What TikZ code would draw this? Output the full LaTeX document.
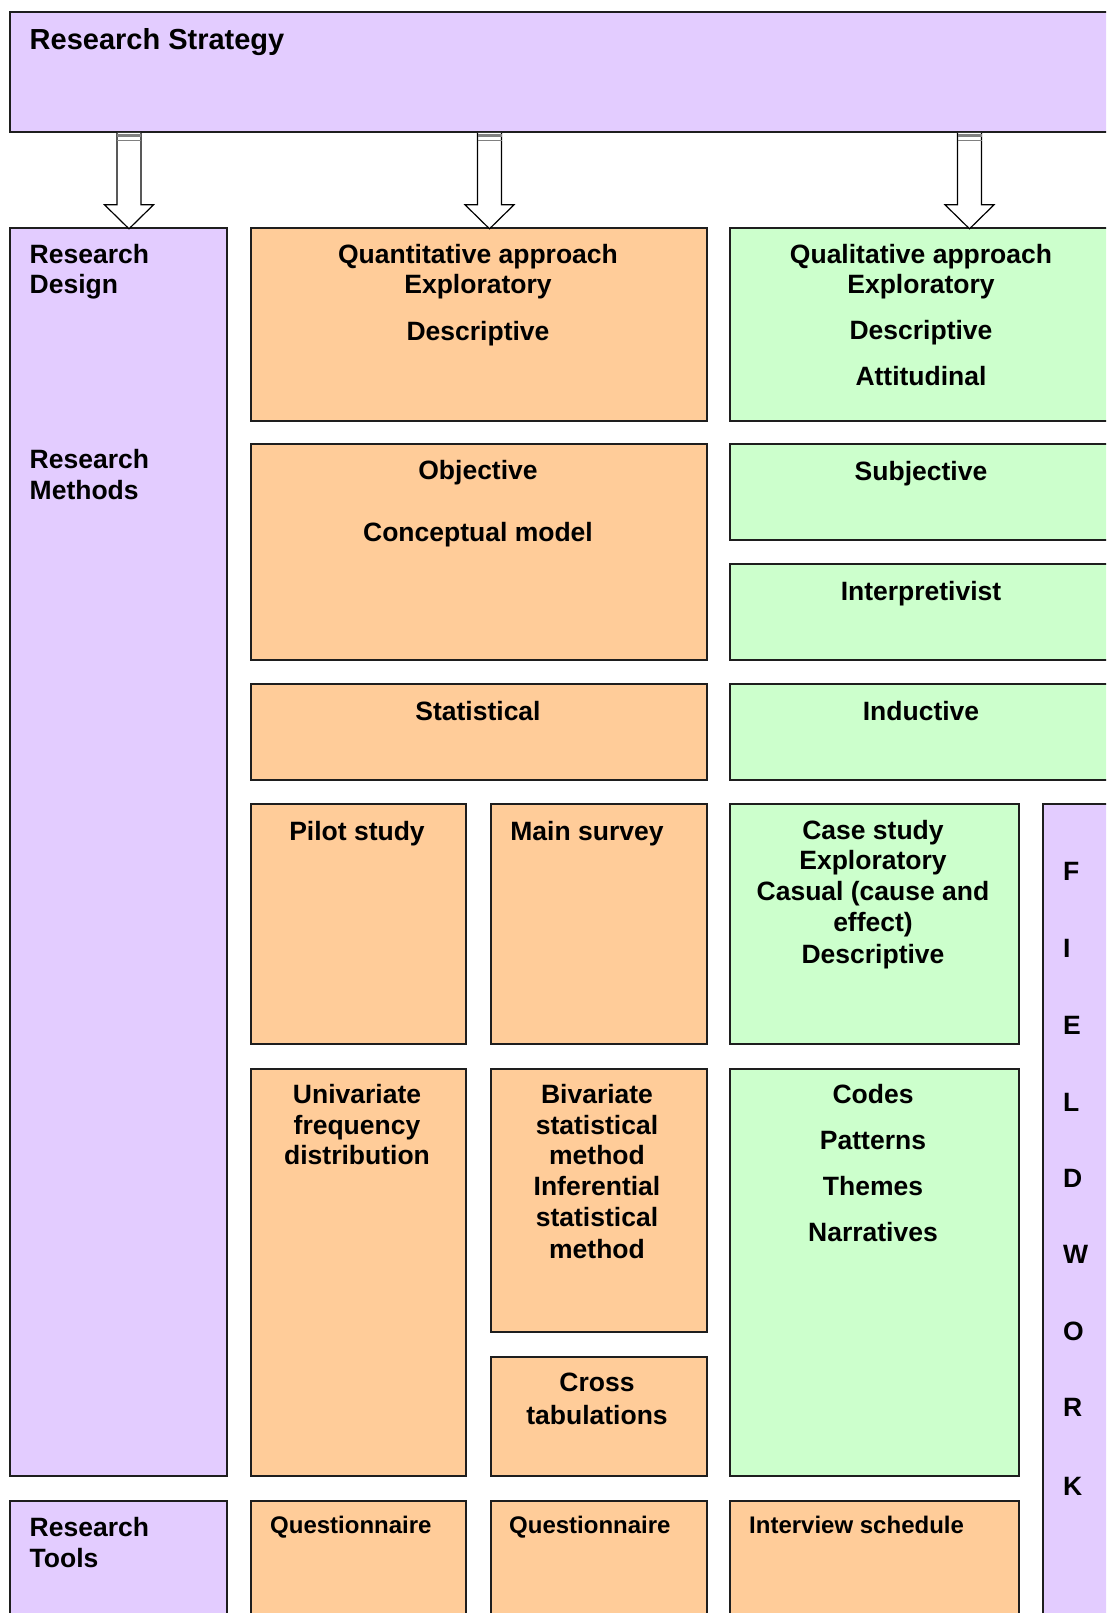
\documentclass[tikz,border=0pt]{standalone}
\usepackage{fontspec}
\setmainfont{Liberation Sans}
\definecolor{lav}{RGB}{227,204,255}
\definecolor{peach}{RGB}{255,204,153}
\definecolor{mint}{RGB}{204,255,204}
\definecolor{edge}{RGB}{30,30,30}
\tikzset{
  box/.style={draw=edge, line width=1.8pt, rectangle, inner sep=0pt, anchor=north west},
  lbl/.style={inner sep=0pt, anchor=base, font=\fontsize{26.5}{30.5}\selectfont\bfseries},
  lbll/.style={lbl, anchor=base west},
  small/.style={inner sep=0pt, anchor=base west, font=\fontsize{24}{28}\selectfont\bfseries},
  arrowline/.style={draw=black, fill=white, line width=1.2pt, line join=miter},
  blockarrow/.pic={
    \path[arrowline] (-12,0) -- (-12,72) -- (-24.5,72) -- (0,96) -- (24.5,72) -- (12,72) -- (12,0);
    \fill[gray] (-12,1) rectangle (12,4.5);
    \draw[gray, line width=1pt] (-12,7.5) -- (12,7.5);
  }
}
\begin{document}
\begin{tikzpicture}[x=1pt,y=-1pt]
\clip (0,0) rectangle (1106,1613);
\fill[white] (0,0) rectangle (1106,1613);

% strategy band
\node[box, fill=lav, minimum width=1104pt, minimum height=120pt] (strategy) at (9,11) {};
\node[lbll, font=\fontsize{29}{33}\selectfont\bfseries] (tstrategy) at (29.5,50) {Research Strategy};

% left column
\node[box, fill=lav, minimum width=217pt, minimum height=1248pt] (design) at (9,227) {};
\node[box, fill=lav, minimum width=217pt, minimum height=140pt] (tools) at (9,1500) {};
\node[lbll] (tdesign1) at (29.5,263) {Research};
\node[lbll] (tdesign2) at (29.5,293) {Design};
\node[lbll] (tmeth1) at (29.5,468) {Research};
\node[lbll] (tmeth2) at (29.5,499) {Methods};
\node[lbll] (ttools1) at (29.5,1536) {Research};
\node[lbll] (ttools2) at (29.5,1567) {Tools};

% quantitative column
\node[box, fill=peach, minimum width=456pt, minimum height=193pt] (quant) at (250,227) {};
\node[box, fill=peach, minimum width=456pt, minimum height=216pt] (objective) at (250,443) {};
\node[box, fill=peach, minimum width=456pt, minimum height=96pt] (statistical) at (250,683) {};
\node[box, fill=peach, minimum width=215pt, minimum height=240pt] (pilot) at (250,803) {};
\node[box, fill=peach, minimum width=216pt, minimum height=240pt] (mainsurvey) at (490,803) {};
\node[box, fill=peach, minimum width=215pt, minimum height=407pt] (univ) at (250,1068) {};
\node[box, fill=peach, minimum width=216pt, minimum height=263pt] (biv) at (490,1068) {};
\node[box, fill=peach, minimum width=216pt, minimum height=119pt] (cross) at (490,1356) {};
\node[box, fill=peach, minimum width=215pt, minimum height=140pt] (quest1) at (250,1500) {};
\node[box, fill=peach, minimum width=216pt, minimum height=140pt] (quest2) at (490,1500) {};

\node[lbl] (tq1) at (478,263) {Quantitative approach};
\node[lbl] (tq2) at (478,293) {Exploratory};
\node[lbl] (tq3) at (478,340) {Descriptive};
\node[lbl] (tobj1) at (478,479) {Objective};
\node[lbl] (tobj2) at (478,541) {Conceptual model};
\node[lbl] (tstat) at (478,720) {Statistical};
\node[lbl] (tpilot) at (357,840) {Pilot study};
\node[lbl] (tmain) at (587,840) {Main survey};
\node[lbl] (tuni1) at (357,1103) {Univariate};
\node[lbl] (tuni2) at (357,1134) {frequency};
\node[lbl] (tuni3) at (357,1164) {distribution};
\node[lbl] (tbi1) at (597,1103) {Bivariate};
\node[lbl] (tbi2) at (597,1134) {statistical};
\node[lbl] (tbi3) at (597,1164) {method};
\node[lbl] (tbi4) at (597,1195) {Inferential};
\node[lbl] (tbi5) at (597,1226) {statistical};
\node[lbl] (tbi6) at (597,1258) {method};
\node[lbl] (tcr1) at (597,1391) {Cross};
\node[lbl] (tcr2) at (597,1424) {tabulations};
\node[small] (tquest1) at (270,1533) {Questionnaire};
\node[small] (tquest2) at (509,1533) {Questionnaire};

% qualitative column
\node[box, fill=mint, minimum width=384pt, minimum height=193pt] (qual) at (729,227) {};
\node[box, fill=mint, minimum width=384pt, minimum height=96pt] (subjective) at (729,443) {};
\node[box, fill=mint, minimum width=384pt, minimum height=96pt] (interp) at (729,563) {};
\node[box, fill=mint, minimum width=384pt, minimum height=96pt] (inductive) at (729,683) {};
\node[box, fill=mint, minimum width=289pt, minimum height=240pt] (casestudy) at (729,803) {};
\node[box, fill=mint, minimum width=289pt, minimum height=407pt] (codes) at (729,1068) {};
\node[box, fill=peach, minimum width=289pt, minimum height=140pt] (interview) at (729,1500) {};

\node[lbl] (tql1) at (921,263) {Qualitative approach};
\node[lbl] (tql2) at (921,293) {Exploratory};
\node[lbl] (tql3) at (921,339) {Descriptive};
\node[lbl] (tql4) at (921,385) {Attitudinal};
\node[lbl] (tsubj) at (921,480) {Subjective};
\node[lbl] (tinterp) at (921,600) {Interpretivist};
\node[lbl] (tind) at (921,720) {Inductive};
\node[lbl] (tcs1) at (873,839) {Case study};
\node[lbl] (tcs2) at (873,869) {Exploratory};
\node[lbl] (tcs3) at (873,900) {Casual (cause and};
\node[lbl] (tcs4) at (873,931) {effect)};
\node[lbl] (tcs5) at (873,963) {Descriptive};
\node[lbl] (tco1) at (873,1103) {Codes};
\node[lbl] (tco2) at (873,1149) {Patterns};
\node[lbl] (tco3) at (873,1195) {Themes};
\node[lbl] (tco4) at (873,1241) {Narratives};
\node[small] (tinterview) at (749,1533) {Interview schedule};

% fieldwork strip
\node[box, fill=lav, minimum width=71pt, minimum height=837pt] (fieldwork) at (1042,803) {};
\node[lbll] (fw1) at (1063,880) {F};
\node[lbll] (fw2) at (1063,957) {I};
\node[lbll] (fw3) at (1063,1034) {E};
\node[lbll] (fw4) at (1063,1111) {L};
\node[lbll] (fw5) at (1063,1187) {D};
\node[lbll] (fw6) at (1063,1263) {W};
\node[lbll] (fw7) at (1063,1340) {O};
\node[lbll] (fw8) at (1063,1416) {R};
\node[lbll] (fw9) at (1063,1495) {K};

% block arrows from the strategy band
\coordinate (arrA) at (strategy.south -| 129,0);
\coordinate (arrB) at (strategy.south -| 489.5,0);
\coordinate (arrC) at (strategy.south -| 969.5,0);
\pic at (arrA) {blockarrow};
\pic at (arrB) {blockarrow};
\pic at (arrC) {blockarrow};
\end{tikzpicture}
\end{document}
